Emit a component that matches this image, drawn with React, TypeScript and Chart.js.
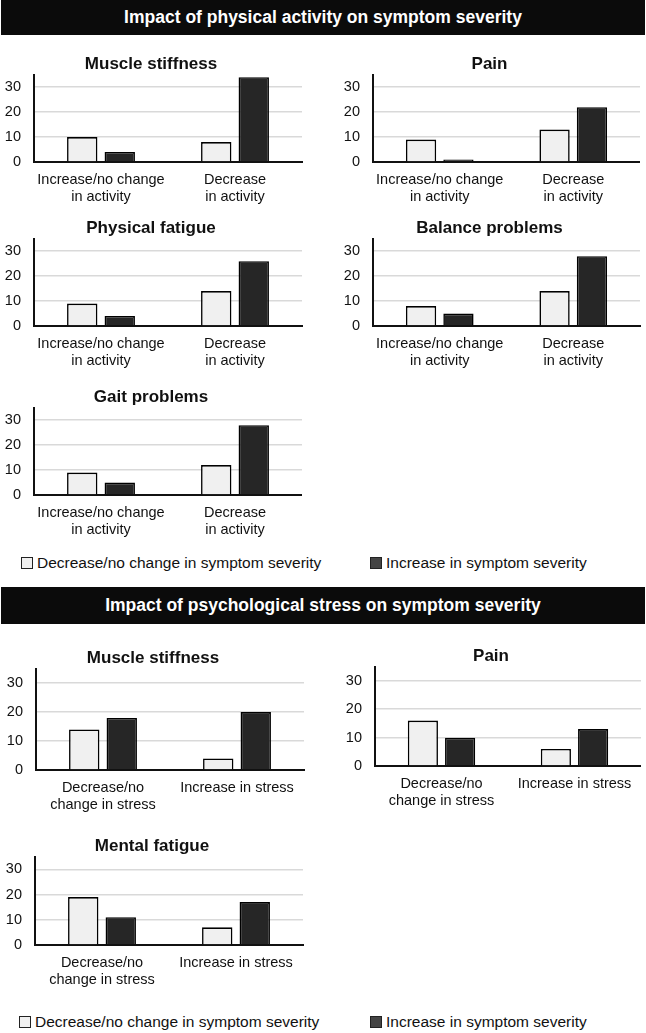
import { useEffect, useRef } from "react"
import { Chart, registerables, type ChartConfiguration } from "chart.js"

Chart.register(...registerables)

const FONT = '"Liberation Sans", Arial, Helvetica, sans-serif'

// categories
const activityLabels = [["Increase/no change", "in activity"], ["Decrease", "in activity"]]
const stressLabels = [["Decrease/no", "change in stress"], "Increase in stress"]
const seriesNames = ["Decrease/no change in symptom severity", "Increase in symptom severity"]
const yTicks = [0, 10, 20, 30]
const yMax = 35

// values per category: [first category, second category]
const muscleActivityLow = [10, 8]
const muscleActivityHigh = [4, 34]
const painActivityLow = [9, 13]
const painActivityHigh = [1, 22]
const physFatigueLow = [9, 14]
const physFatigueHigh = [4, 26]
const balanceLow = [8, 14]
const balanceHigh = [5, 28]
const gaitLow = [9, 12]
const gaitHigh = [5, 28]
const muscleStressLow = [14, 4]
const muscleStressHigh = [18, 20]
const painStressLow = [16, 6]
const painStressHigh = [10, 13]
const mentalFatigueLow = [19, 7]
const mentalFatigueHigh = [11, 17]

const LIGHT = "#f0f0f0"
const DARK = "#262626"
const TITLE_H = 17
const Y_W = 34
const X_H = 48

interface PanelBox {
  axisLeft: number
  axisRight: number
  baseline: number
  area: number
  titleX: number
}

interface PanelProps {
  title: string
  labels: (string | string[])[]
  low: number[]
  high: number[]
  box: PanelBox
}

function Panel({ title, labels, low, high, box }: PanelProps) {
  const canvasRef = useRef<HTMLCanvasElement | null>(null)

  // shift the canvas so the centred title lands where the original has it
  let left = box.axisLeft - Y_W
  let right = box.axisRight
  const mid = (left + right) / 2
  let padL = 0
  let padR = 0
  if (box.titleX > mid) padR = 2 * (box.titleX - mid)
  else padL = 2 * (mid - box.titleX)
  left -= padL
  right += padR
  const top = box.baseline - box.area - TITLE_H
  const width = Math.round(right - left)
  const height = TITLE_H + box.area + X_H

  useEffect(() => {
    if (!canvasRef.current) return
    const tickFont = { family: FONT, size: 14.5, lineHeight: 1.2 }
    const config: ChartConfiguration = {
      type: "bar",
      data: {
        labels: labels as any,
        datasets: [
          {
            label: seriesNames[0],
            data: low,
            backgroundColor: LIGHT,
            borderColor: "#000",
            borderWidth: 1.6,
            categoryPercentage: 0.56,
            barPercentage: 0.81,
          },
          {
            label: seriesNames[1],
            data: high,
            backgroundColor: DARK,
            borderColor: "#000",
            borderWidth: 1.6,
            categoryPercentage: 0.56,
            barPercentage: 0.81,
          },
        ],
      },
      options: {
        animation: false,
        responsive: false,
        layout: { padding: { left: padL, right: padR, top: 0, bottom: 0 } },
        plugins: {
          legend: { display: false },
          tooltip: { enabled: false },
          title: {
            display: true,
            text: title,
            color: "#111",
            font: { family: FONT, size: 17, weight: "bold", lineHeight: 13 / 17 },
            padding: { top: 0, bottom: 4 },
          },
        },
        scales: {
          x: {
            grid: { display: false, drawTicks: false },
            border: { display: true, color: "#111", width: 2 },
            ticks: { font: tickFont, color: "#111", padding: 9, maxRotation: 0, autoSkip: false },
            afterFit: (s: any) => {
              s.height = X_H
            },
          },
          y: {
            min: 0,
            max: yMax,
            afterBuildTicks: (s: any) => {
              s.ticks = yTicks.map((v) => ({ value: v }))
            },
            grid: { color: "#d9d9d9", lineWidth: 1.6, drawTicks: false },
            border: { display: true, color: "#111", width: 2 },
            ticks: { font: tickFont, color: "#111", padding: 13 },
            afterFit: (s: any) => {
              s.width = Y_W
            },
          },
        },
      },
    }
    const chart = new Chart(canvasRef.current, config)
    return () => chart.destroy()
  }, [title, labels, low, high, padL, padR])

  return (
    <canvas
      ref={canvasRef}
      width={width}
      height={height}
      style={{ position: "absolute", left, top, width, height }}
    />
  )
}

function Header({ text, top, height }: { text: string; top: number; height: number }) {
  return (
    <div
      style={{
        position: "absolute",
        left: 1,
        top,
        width: 644,
        height,
        background: "#0b0b0b",
        color: "#fff",
        font: `bold 17.5px ${FONT}`,
        display: "flex",
        alignItems: "center",
        justifyContent: "center",
      }}
    >
      {text}
    </div>
  )
}

function LegendItem({ left, top, color, text }: { left: number; top: number; color: string; text: string }) {
  return (
    <div
      style={{
        position: "absolute",
        left,
        top,
        height: 20,
        display: "flex",
        alignItems: "center",
        font: `15.5px ${FONT}`,
        color: "#111",
        whiteSpace: "nowrap",
      }}
    >
      <span
        style={{
          display: "inline-block",
          width: 12,
          height: 12,
          boxSizing: "border-box",
          border: "1.5px solid #222",
          background: color,
          marginRight: 4,
        }}
      />
      {text}
    </div>
  )
}

export default function App() {
  return (
    <div
      style={{
        position: "absolute",
        left: 0,
        top: 0,
        width: 646,
        height: 1033,
        overflow: "hidden",
        background: "#fff",
      }}
    >
      <Header text="Impact of physical activity on symptom severity" top={0} height={35} />
      <Panel
        title="Muscle stiffness"
        labels={activityLabels}
        low={muscleActivityLow}
        high={muscleActivityHigh}
        box={{ axisLeft: 34, axisRight: 302, baseline: 162, area: 92, titleX: 153 }}
      />
      <Panel
        title="Pain"
        labels={activityLabels}
        low={painActivityLow}
        high={painActivityHigh}
        box={{ axisLeft: 373, axisRight: 640, baseline: 162, area: 92, titleX: 483.5 }}
      />
      <Panel
        title="Physical fatigue"
        labels={activityLabels}
        low={physFatigueLow}
        high={physFatigueHigh}
        box={{ axisLeft: 34, axisRight: 302, baseline: 326, area: 92, titleX: 152 }}
      />
      <Panel
        title="Balance problems"
        labels={activityLabels}
        low={balanceLow}
        high={balanceHigh}
        box={{ axisLeft: 373, axisRight: 640, baseline: 326, area: 92, titleX: 501 }}
      />
      <Panel
        title="Gait problems"
        labels={activityLabels}
        low={gaitLow}
        high={gaitHigh}
        box={{ axisLeft: 34, axisRight: 302, baseline: 495, area: 92, titleX: 149 }}
      />
      <LegendItem left={21} top={553} color={LIGHT} text={seriesNames[0]} />
      <LegendItem left={370} top={553} color="#444" text={seriesNames[1]} />

      <Header text="Impact of psychological stress on symptom severity" top={587} height={37} />
      <Panel
        title="Muscle stiffness"
        labels={stressLabels}
        low={muscleStressLow}
        high={muscleStressHigh}
        box={{ axisLeft: 36, axisRight: 304, baseline: 770, area: 106, titleX: 162 }}
      />
      <Panel
        title="Pain"
        labels={stressLabels}
        low={painStressLow}
        high={painStressHigh}
        box={{ axisLeft: 375, axisRight: 641, baseline: 766, area: 104, titleX: 488 }}
      />
      <Panel
        title="Mental fatigue"
        labels={stressLabels}
        low={mentalFatigueLow}
        high={mentalFatigueHigh}
        box={{ axisLeft: 35, axisRight: 303, baseline: 945, area: 93, titleX: 168 }}
      />
      <LegendItem left={19} top={1012} color={LIGHT} text={seriesNames[0]} />
      <LegendItem left={370} top={1012} color="#444" text={seriesNames[1]} />
    </div>
  )
}
